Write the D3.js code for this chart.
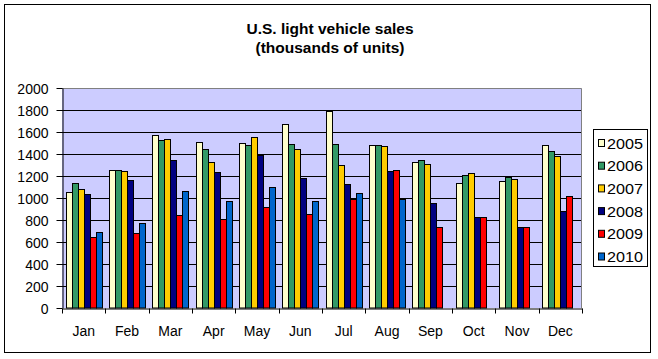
<!DOCTYPE html>
<html><head><meta charset="utf-8">
<script src="https://cdn.jsdelivr.net/npm/d3@7"></script>
<style>body{margin:0;background:#fff}svg{display:block}text{font-family:"Liberation Sans",Arial,sans-serif}</style>
</head><body><svg id="c" width="658" height="359"></svg>
<script>
const months = ["Jan","Feb","Mar","Apr","May","Jun","Jul","Aug","Sep","Oct","Nov","Dec"];
const years = ["2005","2006","2007","2008","2009","2010"];
const colors = ["#FFFFCC","#339966","#FFCC00","#000080","#FF0000","#0066CC"];
const s2005 = [1054,1257,1571,1508,1498,1671,1794,1480,1326,1136,1154,1480];
const s2006 = [1136,1257,1526,1444,1480,1489,1489,1480,1344,1208,1190,1426];
const s2007 = [1085,1245,1535,1326,1553,1444,1299,1471,1308,1227,1172,1381];
const s2008 = [1036,1163,1347,1236,1393,1181,1127,1248,955,831,737,882];
const s2009 = [647,683,846,813,918,855,991,1257,737,831,737,1018];
const s2010 = [692,773,1066,973,1100,973,1045,991,null,null,null,null];
const series = [s2005,s2006,s2007,s2008,s2009,s2010];
const yTicks = [0,200,400,600,800,1000,1200,1400,1600,1800,2000];

const svg = d3.select("#c");
svg.append("rect").attr("x",4.5).attr("y",4.5).attr("width",646).attr("height",348)
  .attr("fill","#fff").attr("stroke","#000");

const L=62,R=582,T=88,B=308;
const x = d3.scaleBand().domain(months).range([L,R]);
const xi = d3.scaleBand().domain(years).range([3.67,3.67+36]);
const y = d3.scaleLinear().domain([0,2000]).range([B,T]);

svg.append("rect").attr("x",L).attr("y",T).attr("width",R-L).attr("height",B-T).attr("fill","#CCCCFF");
svg.append("g").selectAll("line").data(yTicks.filter(d=>d>0&&d<2000)).join("line")
  .attr("x1",L).attr("x2",R).attr("y1",d=>Math.round(y(d))+0.5).attr("y2",d=>Math.round(y(d))+0.5)
  .attr("stroke","#000");
svg.append("path").attr("d",`M${L},${T+0.5}H${R-0.5}V${B}`).attr("fill","none").attr("stroke","#808080");

const groups = svg.append("g").selectAll("g").data(series).join("g")
  .attr("fill",(d,i)=>colors[i]);
groups.each(function(s,si){
  d3.select(this).selectAll("rect").data(s.map((v,mi)=>({v,m:months[mi]})).filter(d=>d.v!=null)).join("rect")
    .attr("x",d=>Math.round(x(d.m)+xi(years[si]))+0.5)
    .attr("y",d=>Math.round(y(d.v))+0.5)
    .attr("width",Math.round(xi.bandwidth()))
    .attr("height",d=>B-Math.round(y(d.v))-0.5)
    .attr("stroke","#000").attr("stroke-width",1);
});

const ya = svg.append("g").attr("transform",`translate(${L+0.5},0)`)
  .call(d3.axisLeft(y).tickValues(yTicks).tickSize(6).tickSizeOuter(0).tickFormat(d3.format("d")));
ya.select(".domain").attr("stroke","#000");
ya.selectAll("text").attr("font-size",14).attr("fill","#000").attr("x",-14).attr("dy","0.36em");
ya.selectAll("line").attr("stroke","#000");

const xa = svg.append("g").attr("transform",`translate(0,${B+0.5})`)
  .call(d3.axisBottom(x).tickSize(0).tickSizeOuter(0));
xa.select(".domain").attr("stroke","#000");
xa.selectAll("text").attr("font-size",14).attr("fill","#000").attr("y",27).attr("dy",0);
xa.selectAll(".sep").data(d3.range(months.length+1)).join("line").attr("class","sep")
  .attr("x1",i=>Math.round(L+i*x.step())+0.5).attr("x2",i=>Math.round(L+i*x.step())+0.5)
  .attr("y1",0).attr("y2",5).attr("stroke","#000");

svg.append("text").attr("x",330).attr("y",34).attr("text-anchor","middle")
  .attr("font-size",15.5).attr("font-weight","bold").text("U.S. light vehicle sales");
svg.append("text").attr("x",330).attr("y",53).attr("text-anchor","middle")
  .attr("font-size",15.5).attr("font-weight","bold").text("(thousands of units)");

const lg = svg.append("g");
lg.append("rect").attr("x",593.5).attr("y",129.5).attr("width",54).attr("height",137)
  .attr("fill","#fff").attr("stroke","#000");
const li = lg.selectAll("g").data(years).join("g")
  .attr("transform",(d,i)=>`translate(0,${143+i*22.7})`);
li.append("rect").attr("x",598.5).attr("y",-3.5).attr("width",6).attr("height",7)
  .attr("fill",(d,i)=>colors[i]).attr("stroke","#000");
li.append("text").attr("x",607).attr("y",5.5).attr("font-size",14)
  .attr("textLength",36).attr("lengthAdjust","spacingAndGlyphs").text(d=>d);
</script></body></html>
